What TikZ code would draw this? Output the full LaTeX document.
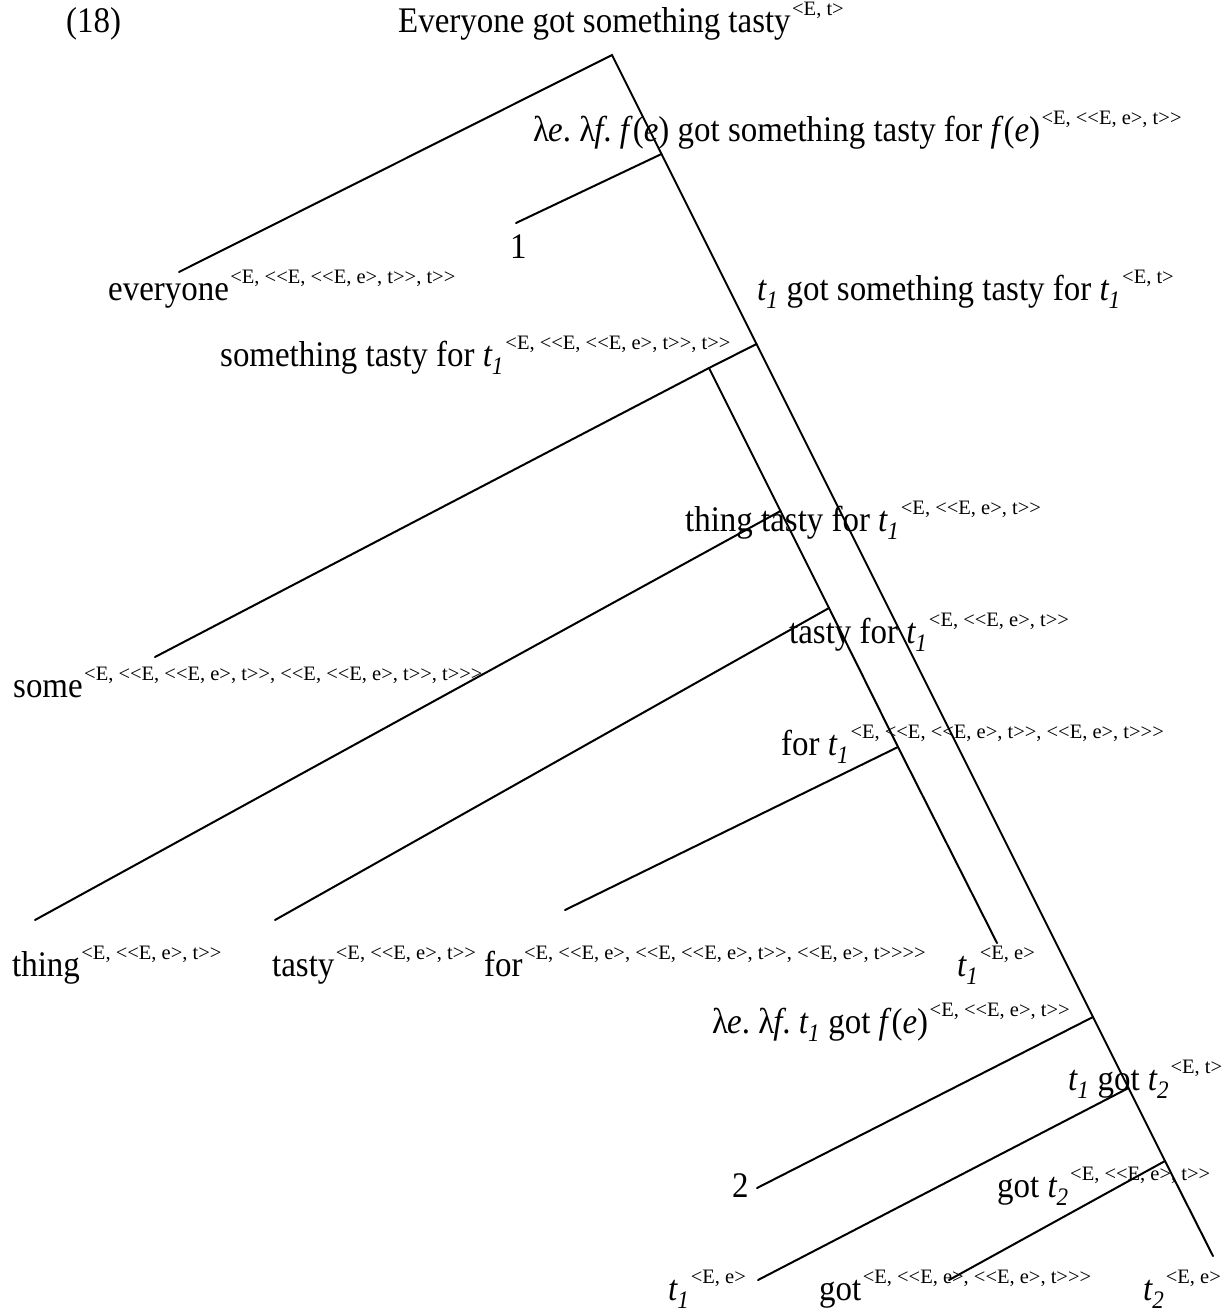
\documentclass[tikz,border=0pt]{standalone}
\usepackage{fontspec}
\setmainfont{Liberation Serif}[Ligatures=TeXOff, FakeStretch=0.915]
\newfontfamily\supf{Liberation Serif}[Ligatures=TeXOff]
\newcommand{\mainsz}{\fontsize{36}{40}\selectfont}
\newcommand{\ty}[1]{\kern1.5pt\raisebox{17pt}{\supf\fontsize{20.5}{21}\selectfont #1}}
\newcommand{\tsub}[1]{\textit{t\textsubscript{#1}}}
\newcommand{\lam}[1]{λ\kern-1pt\textit{#1}.\hspace{0.23em}}
\begin{document}
\begin{tikzpicture}[x=1pt,y=-1pt,
  lbl/.style={inner sep=0pt, anchor=base west, font=\mainsz},
  br/.style={line width=2pt, line cap=round}]
\useasboundingbox (0,0) rectangle (1225,1312);
% tree points
\coordinate (root) at (612,55);
\coordinate (lEveryone) at (179,272);
\coordinate (j1) at (661.5,154);
\coordinate (l1) at (516,223);
\coordinate (j2) at (756.5,344);
\coordinate (jS) at (709,368);
\coordinate (lSome) at (155,657);
\coordinate (jT1) at (780.5,511);
\coordinate (lThing) at (35,920);
\coordinate (jT2) at (829,608);
\coordinate (lTasty) at (275,920);
\coordinate (jT3) at (898,747);
\coordinate (lFor) at (565,910);
\coordinate (lT1) at (997,943);
\coordinate (j3) at (1093,1017);
\coordinate (l2) at (757,1188);
\coordinate (j4) at (1128.5,1088);
\coordinate (lT1b) at (758,1280);
\coordinate (j5) at (1165,1161);
\coordinate (lGot) at (949,1280);
\coordinate (lT2) at (1213,1256);
% branches
\draw[br] (lEveryone) -- (root) -- (j1) -- (j2) -- (j3) -- (j4) -- (j5) -- (lT2);
\draw[br] (l1) -- (j1);
\draw[br] (j2) -- (jS) -- (jT1) -- (jT2) -- (jT3) -- (lT1);
\draw[br] (lSome) -- (jS);
\draw[br] (lThing) -- (jT1);
\draw[br] (lTasty) -- (jT2);
\draw[br] (lFor) -- (jT3);
\draw[br] (l2) -- (j3);
\draw[br] (lT1b) -- (j4);
\draw[br] (lGot) -- (j5);
% labels
\node[lbl] (ex) at (66,32) {(18)};
\node[lbl] (tRoot) at (398,32) {Everyone got something tasty\ty{<E, t>}};
\node[lbl] (tJ1) at (533,141) {\lam{e}\lam{f}\textit{f}(\textit{e}) got something tasty for \textit{f}(\textit{e})\ty{<E, <<E, e>, t>>}};
\node[lbl] (t1) at (510,258) {1};
\node[lbl] (tEveryone) at (108,300) {everyone\ty{<E, <<E, <<E, e>, t>>, t>>}};
\node[lbl] (tJ2) at (757,300) {\tsub{1} got something tasty for \tsub{1}\ty{<E, t>}};
\node[lbl] (tS) at (220,366) {something tasty for \tsub{1}\ty{<E, <<E, <<E, e>, t>>, t>>}};
\node[lbl] (tT1) at (685,531) {thing tasty for \tsub{1}\ty{<E, <<E, e>, t>>}};
\node[lbl] (tT2) at (789,643) {tasty for \tsub{1}\ty{<E, <<E, e>, t>>}};
\node[lbl] (tSome) at (13,697) {some\ty{<E, <<E, <<E, e>, t>>, <<E, <<E, e>, t>>, t>>>}};
\node[lbl] (tT3) at (781,755) {for \tsub{1}\ty{<E, <<E, <<E, e>, t>>, <<E, e>, t>>>}};
\node[lbl] (tThing) at (12,976) {thing\ty{<E, <<E, e>, t>>}};
\node[lbl] (tTasty) at (272,976) {tasty\ty{<E, <<E, e>, t>>}};
\node[lbl] (tFor) at (484,976) {for\ty{<E, <<E, e>, <<E, <<E, e>, t>>, <<E, e>, t>>>>}};
\node[lbl] (tT1x) at (957,976) {\tsub{1}\ty{<E, e>}};
\node[lbl] (tJ3) at (712,1033) {\lam{e}\lam{f}\tsub{1} got \textit{f}(\textit{e})\ty{<E, <<E, e>, t>>}};
\node[lbl] (tJ4) at (1068,1090) {\tsub{1} got \tsub{2}\ty{<E, t>}};
\node[lbl] (t2) at (732,1197) {2};
\node[lbl] (tJ5) at (997,1197) {got \tsub{2}\ty{<E, <<E, e>, t>>}};
\node[lbl] (tT1b) at (668,1300) {\tsub{1}\ty{<E, e>}};
\node[lbl] (tGot) at (819,1300) {got\ty{<E, <<E, e>, <<E, e>, t>>>}};
\node[lbl] (tT2x) at (1143,1300) {\tsub{2}\ty{<E, e>}};
\end{tikzpicture}
\end{document}
